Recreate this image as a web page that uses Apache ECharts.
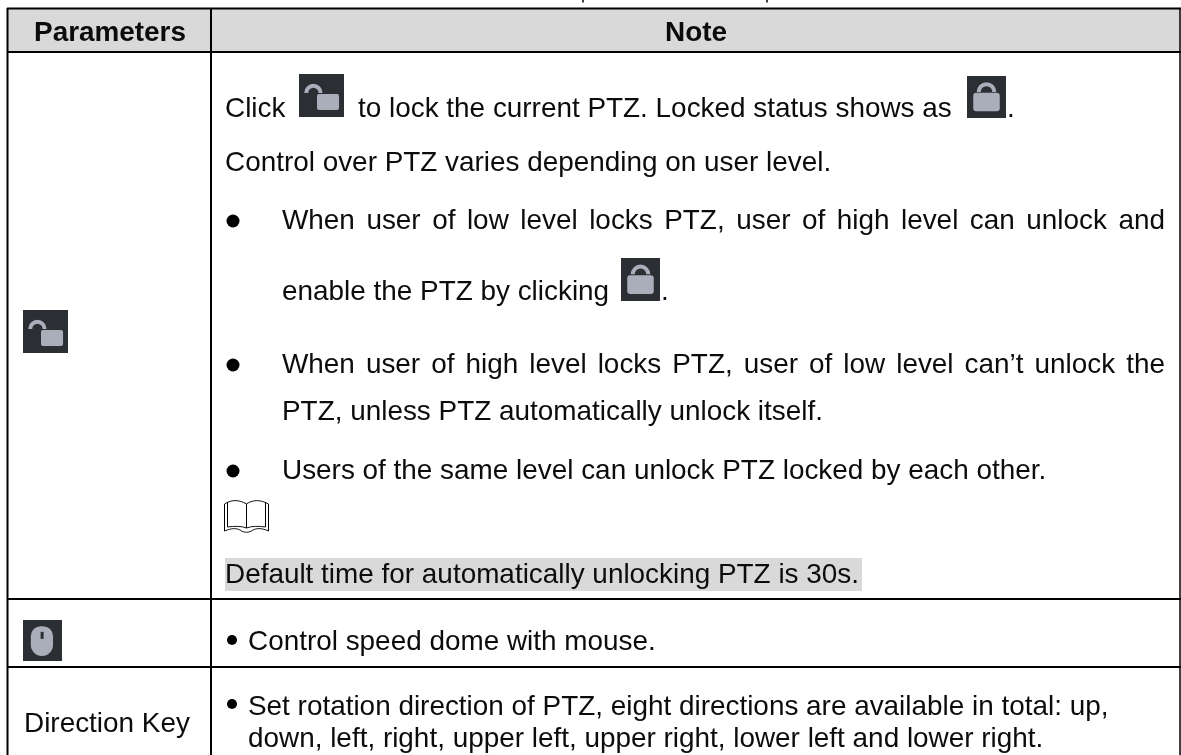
<!DOCTYPE html>
<html>
<head>
<meta charset="utf-8">
<style>html,body{margin:0;padding:0;background:#fff}#main{width:1181px;height:755px}</style>
</head>
<body>
<div id="main"></div>
<script src="https://cdn.jsdelivr.net/npm/echarts@6/dist/echarts.min.js"></script>
<script>
// table text
var headers = ['Parameters', 'Note'];
var paramLabels = ['Direction Key'];
var noteLines = [
    'Click',
    'to lock the current PTZ. Locked status shows as',
    '.',
    'Control over PTZ varies depending on user level.',
    'When user of low level locks PTZ, user of high level can unlock and',
    'enable the PTZ by clicking',
    '.',
    'When user of high level locks PTZ, user of low level can\u2019t unlock the',
    'PTZ, unless PTZ automatically unlock itself.',
    'Users of the same level can unlock PTZ locked by each other.',
    'Default time for automatically unlocking PTZ is 30s.',
    'Control speed dome with mouse.',
    'Set rotation direction of PTZ, eight directions are available in total: up,',
    'down, left, right, upper left, upper right, lower left and lower right.'
];

var FONT = '"Liberation Sans", Arial, sans-serif';
var SIZE = 27.9;
var myChart = echarts.init(document.getElementById('main'));
var els = [];

function rect(x, y, w, h, fill, r) {
    els.push({type: 'rect', shape: {x: x, y: y, width: w, height: h, r: r || 0}, style: {fill: fill}, silent: true});
}
function line(x1, y1, x2, y2, w) {
    els.push({type: 'line', shape: {x1: x1, y1: y1, x2: x2, y2: y2}, style: {stroke: '#000', lineWidth: w || 2}, silent: true});
}
// base is the baseline of the line
function text(str, x, base, size, opt) {
    opt = opt || {};
    els.push({type: 'text', x: x, y: base - size * 0.35 + 2, style: {
        text: str, fill: '#0c0c0c',
        font: (opt.bold ? 'bold ' : '') + size + 'px ' + FONT,
        align: opt.align || 'left', verticalAlign: 'middle'
    }, silent: true});
}
// spreads the words so the line fills the cell, like the justified text in the doc
function justified(str, x1, x2, base, size) {
    var ctx = document.createElement('canvas').getContext('2d');
    ctx.font = size + 'px ' + FONT;
    var words = str.split(' ');
    var total = 0;
    words.forEach(function (w) { total += ctx.measureText(w).width; });
    var gap = (x2 - x1 - total) / (words.length - 1);
    var x = x1;
    words.forEach(function (w) {
        text(w, x, base, size);
        x += ctx.measureText(w).width + gap;
    });
}
function bullet(x, y, r) {
    els.push({type: 'circle', shape: {cx: x, cy: y, r: r}, style: {fill: '#000'}, silent: true});
}
function arc(cx, cy, r, lw) {
    els.push({type: 'arc', shape: {cx: cx, cy: cy, r: r, startAngle: Math.PI, endAngle: 0, clockwise: true},
        style: {stroke: '#a9aeba', fill: null, lineWidth: lw}, silent: true});
}
function openLock(x, y, w, h) {
    rect(x, y, w, h, '#2b2e33');
    arc(x + w * 0.32, y + h * 0.44, w * 0.16, 4);
    rect(x + w * 0.4, y + h * 0.465, w * 0.49, h * 0.375, '#a9aeba', 2);
}
function closedLock(x, y, w, h) {
    rect(x, y, w, h, '#2b2e33');
    arc(x + w / 2, y + h * 0.38, w * 0.2, 4);
    rect(x + w * 0.16, y + h * 0.4, w * 0.68, h * 0.44, '#a9aeba', 3);
}
function mouseIcon(x, y, w, h) {
    rect(x, y, w, h, '#2b2e33');
    rect(x + w * 0.2, y + h * 0.15, w * 0.57, h * 0.73, '#a9aeba', [10, 10, 11, 11]);
    rect(x + w * 0.49 - 1.5, y + h * 0.29, 3, h * 0.17, '#2b2e33');
}
function curve(x1, y1, cx1, cy1, cx2, cy2, x2, y2) {
    els.push({type: 'bezierCurve', shape: {x1: x1, y1: y1, cpx1: cx1, cpy1: cy1, cpx2: cx2, cpy2: cy2, x2: x2, y2: y2},
        style: {stroke: '#111', fill: null, lineWidth: 1}, silent: true});
}
function bookIcon(x, y) {
    var s = 1;
    line(x + 0.5, y + 4, x + 0.5, y + 31, s);
    line(x + 44.5, y + 4, x + 44.5, y + 31, s);
    line(x + 3.5, y + 2, x + 3.5, y + 27, s);
    line(x + 41.5, y + 2, x + 41.5, y + 27, s);
    line(x + 22.5, y + 4, x + 22.5, y + 28, s);
    curve(x + 0.5, y + 4, x + 8, y - 1, x + 16, y, x + 22.5, y + 4);
    curve(x + 22.5, y + 4, x + 28, y, x + 36, y - 1, x + 44.5, y + 4);
    curve(x + 3.5, y + 27, x + 10, y + 26, x + 18, y + 26, x + 22.5, y + 28);
    curve(x + 22.5, y + 28, x + 27, y + 26, x + 35, y + 26, x + 41.5, y + 27);
    curve(x + 0.5, y + 31, x + 8, y + 28, x + 12, y + 28, x + 16, y + 30);
    curve(x + 16, y + 30, x + 20, y + 33, x + 25, y + 33, x + 29, y + 30);
    curve(x + 29, y + 30, x + 33, y + 28, x + 38, y + 28, x + 44.5, y + 31);
}

// header band and the shaded note line
rect(8, 9, 1172, 43, '#d9d9d9');
rect(225, 558, 637, 33, '#d9d9d9');

text(headers[0], 110, 41, SIZE, {bold: true, align: 'center'});
text(headers[1], 696, 41, SIZE, {bold: true, align: 'center'});

text(noteLines[0], 225, 117, SIZE);
openLock(299, 74, 45, 43);
text(noteLines[1], 358, 117, SIZE);
closedLock(967, 76, 39, 42);
text(noteLines[2], 1007, 117, SIZE);
text(noteLines[3], 225, 171, SIZE);
bullet(233, 221, 6.5);
justified(noteLines[4], 282, 1165, 229, SIZE);
text(noteLines[5], 282, 300, SIZE);
closedLock(621, 258, 39, 43);
text(noteLines[6], 661, 300, SIZE);
bullet(233, 365, 6.5);
justified(noteLines[7], 282, 1165, 373, SIZE);
text(noteLines[8], 282, 420, SIZE);
bullet(233, 471, 6.5);
text(noteLines[9], 282, 479, SIZE);
bookIcon(224, 500);
text(noteLines[10], 225, 583, SIZE);
bullet(232, 640, 5);
text(noteLines[11], 248, 650, SIZE);
bullet(232, 704, 5);
text(noteLines[12], 248, 715, SIZE);
text(noteLines[13], 248, 747, SIZE);

openLock(23, 310, 45, 43);
mouseIcon(23, 620, 39, 41);
text(paramLabels[0], 24, 732, SIZE);

// grid lines
line(7, 8.5, 1181, 8.5);
line(7, 52, 1181, 52);
line(7, 599, 1181, 599);
line(7, 667, 1181, 667);
line(7.5, 8, 7.5, 755);
line(211, 8, 211, 755);
line(1180, 8, 1180, 755, 1.5);
// descenders of the caption cut off above the table
line(583, 0, 583, 2.5, 1.5);
line(767, 0, 767, 2.5, 1.5);

var option = {graphic: {elements: els}};
myChart.setOption(option);
</script>
</body>
</html>
